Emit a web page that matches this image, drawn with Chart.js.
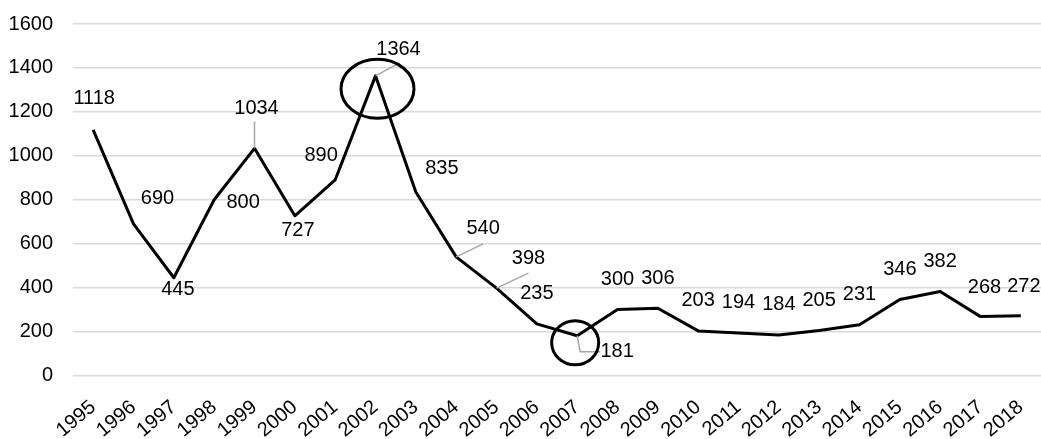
<!DOCTYPE html>
<html>
<head>
<meta charset="utf-8">
<script src="https://cdn.jsdelivr.net/npm/chart.js@4"></script>
<style>
  html, body { margin: 0; padding: 0; background: #fff; }
  #wrap { width: 1041px; height: 439px; position: relative; }
</style>
</head>
<body>
<div id="wrap"><canvas id="chart"></canvas></div>
<script>
// Yearly totals, 1995–2018
const years = ['1995','1996','1997','1998','1999','2000','2001','2002','2003','2004','2005','2006',
               '2007','2008','2009','2010','2011','2012','2013','2014','2015','2016','2017','2018'];
const values = [1118, 690, 445, 800, 1034, 727, 890, 1364, 835, 540, 398, 235,
                181, 300, 306, 203, 194, 184, 205, 231, 346, 382, 268, 272];
const yTicks = [0, 200, 400, 600, 800, 1000, 1200, 1400, 1600];

// Highlighted years (drawn with an ellipse around the point)
const highlighted = ['2002', '2007'];

const FONT = "'Liberation Sans', Arial, sans-serif";
const FONT_SIZE = 20;

// Where each value label sits relative to its point (text centre, px)
const labelPlacement = [
  [1, -31], [24, -25], [4, 12], [29, 3], [2, -40], [3, 15], [-14, -24], [23, -26],
  [26, -24], [27, -28], [32, -30], [0, -30], [40, 16], [0, -30], [0, -30], [0, -30],
  [0, -30], [0, -31], [0, -30], [0, -30], [0, -30], [0, -30], [4, -29], [3, -29]
];
// Grey connector lines from point to a label that was pulled away
const leaderPaths = {
  4: [[0, 0], [0, -27]],
  7: [[0, 0], [24, -13]],
  9: [[0, 0], [27, -13]],
  10: [[0, 0], [32, -15]],
  12: [[0, 0], [3, 16], [23, 16]]
};
// Ellipse around each highlighted point: centre shift and radii
const ellipseShape = {
  '2002': { dx: 2, dy: 13, rx: 36.5, ry: 29.5 },
  '2007': { dx: -2, dy: 7, rx: 23.5, ry: 22 }
};

const valueLabels = {
  id: 'valueLabels',
  afterDatasetsDraw(chart) {
    const ctx = chart.ctx;
    const meta = chart.getDatasetMeta(0);
    ctx.save();
    // connectors
    ctx.strokeStyle = '#a6a6a6';
    ctx.lineWidth = 1.5;
    Object.keys(leaderPaths).forEach(k => {
      const p = meta.data[+k];
      const path = leaderPaths[k];
      ctx.beginPath();
      path.forEach(([dx, dy], i) => {
        if (i === 0) ctx.moveTo(p.x + dx, p.y + dy); else ctx.lineTo(p.x + dx, p.y + dy);
      });
      ctx.stroke();
    });
    // text
    ctx.fillStyle = '#000';
    ctx.font = FONT_SIZE + 'px ' + FONT;
    ctx.textAlign = 'center';
    ctx.textBaseline = 'middle';
    values.forEach((v, i) => {
      const p = meta.data[i];
      const [dx, dy] = labelPlacement[i];
      ctx.fillText(String(v), p.x + dx, p.y + dy);
    });
    // ellipses
    ctx.strokeStyle = '#000';
    ctx.lineWidth = 3;
    highlighted.forEach(yr => {
      const i = years.indexOf(yr);
      const p = meta.data[i];
      const e = ellipseShape[yr];
      ctx.beginPath();
      ctx.ellipse(p.x + e.dx, p.y + e.dy, e.rx, e.ry, 0, 0, Math.PI * 2);
      ctx.stroke();
    });
    ctx.restore();
  }
};

new Chart(document.getElementById('chart'), {
  type: 'line',
  data: {
    labels: years,
    datasets: [{
      data: values,
      borderColor: '#000',
      borderWidth: 3,
      borderJoinStyle: 'round',
      pointRadius: 0,
      tension: 0,
      fill: false
    }]
  },
  options: {
    responsive: true,
    maintainAspectRatio: false,
    animation: false,
    layout: { padding: { left: 10, right: 0, top: 24, bottom: 0 } },
    plugins: {
      legend: { display: false },
      title: { display: false },
      tooltip: { enabled: false }
    },
    scales: {
      x: {
        offset: true,
        grid: { display: false },
        border: { display: false },
        ticks: {
          color: '#000',
          font: { family: FONT, size: FONT_SIZE },
          minRotation: 40,
          maxRotation: 40,
          autoSkip: false,
          padding: 12
        },
        afterFit(scale) {
          scale.paddingLeft = 0;
          scale.paddingRight = 0;
          scale.height = 63.5;
        }
      },
      y: {
        min: yTicks[0],
        max: yTicks[yTicks.length - 1],
        afterBuildTicks(scale) { scale.ticks = yTicks.map(v => ({ value: v })); },
        grid: { color: '#d9d9d9', lineWidth: 1.5, drawTicks: false },
        border: { display: false },
        ticks: {
          color: '#000',
          font: { family: FONT, size: FONT_SIZE },
          padding: 20,
          callback: v => String(v)
        },
        afterFit(scale) {
          scale.width = 63;
          scale.paddingTop = 0;
          scale.paddingBottom = 0;
        }
      }
    }
  },
  plugins: [valueLabels]
});
</script>
</body>
</html>
